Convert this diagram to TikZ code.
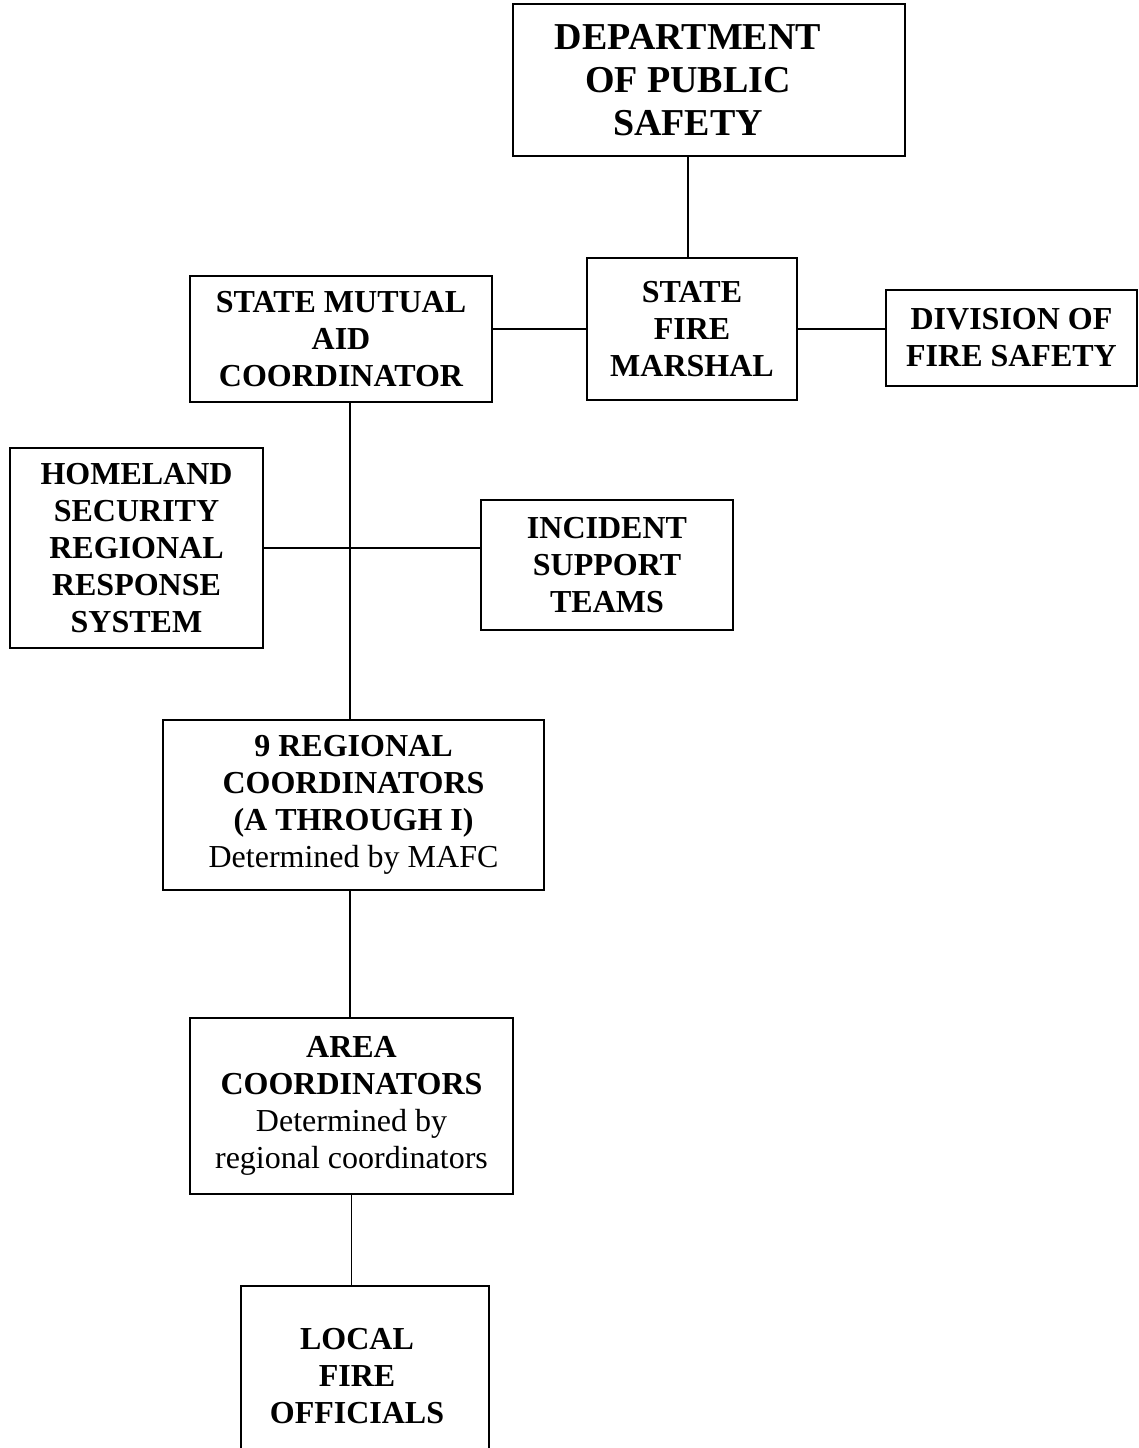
\documentclass[tikz,border=0pt]{standalone}
\usepackage{fontspec}
\setmainfont{Liberation Serif}
\begin{document}
\begin{tikzpicture}[x=1pt,y=-1pt,
  box/.style={draw, line width=1.7pt, align=center, inner sep=0pt,
    font=\fontsize{32}{37}\selectfont\bfseries},
  txt/.style={align=center, inner sep=0pt, font=\fontsize{32}{37}\selectfont\bfseries},
  conn/.style={line width=1.7pt}]
\useasboundingbox (0,0) rectangle (1139,1448);
\node[box, minimum width=392, minimum height=152] (dps) at (709,80) {};
\node[txt, font=\fontsize{38}{43}\selectfont\bfseries] (dpst) at (688,80) {DEPARTMENT\\OF PUBLIC\\SAFETY};
\node[box, minimum width=210, minimum height=142] (sfm) at (692,329) {STATE\\FIRE\\MARSHAL};
\node[box, minimum width=302, minimum height=126] (smac) at (341,339) {STATE MUTUAL\\AID\\COORDINATOR};
\node[box, minimum width=251, minimum height=96] (dfs) at (1011.5,338) {DIVISION OF\\FIRE SAFETY};
\node[box, minimum width=253, minimum height=200] (hs) at (136.5,548) {HOMELAND\\SECURITY\\REGIONAL\\RESPONSE\\SYSTEM};
\node[box, minimum width=252, minimum height=130] (ist) at (607,565) {INCIDENT\\SUPPORT\\TEAMS};
\node[box, minimum width=381, minimum height=170] (rc) at (353.5,805) {9 REGIONAL\\COORDINATORS\\(A THROUGH I)\\{\mdseries Determined by MAFC}};
\node[box, minimum width=323, minimum height=176] (area) at (351.5,1106) {AREA\\COORDINATORS\\{\mdseries Determined by}\\{\mdseries regional coordinators}};
\node[box, minimum width=248, minimum height=184] (local) at (365,1378) {};
\node[txt] (localt) at (357,1376) {LOCAL\\FIRE\\OFFICIALS};

\draw[conn] ([xshift=-4pt]sfm.north) -- ([xshift=-4pt]sfm.north |- dps.south);
\draw[conn] (sfm.west) -- (sfm.west -| smac.east);
\draw[conn] (sfm.east) -- (sfm.east -| dfs.west);
\draw[conn] ([xshift=9pt]smac.south) -- ([xshift=9pt]smac.south |- rc.north);
\draw[conn] (hs.east) -- (hs.east -| ist.west);
\draw[conn] ([xshift=-3.5pt]rc.south) -- ([xshift=-3.5pt]rc.south |- area.north);
\draw[conn] (area.south) -- (area.south |- local.north);
\end{tikzpicture}
\end{document}
